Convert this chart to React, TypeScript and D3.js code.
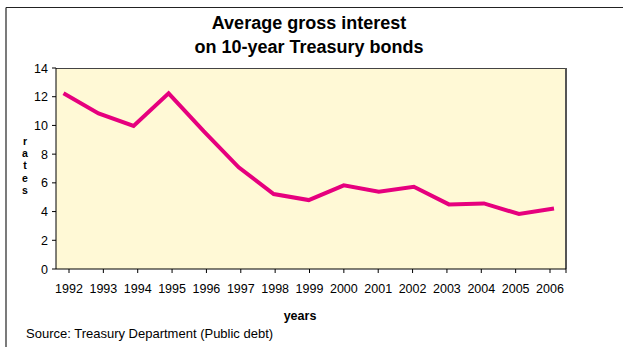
import React from "react";
import * as d3 from "d3";

const years = ["1992","1993","1994","1995","1996","1997","1998","1999","2000","2001","2002","2003","2004","2005","2006"];
const rates = [12.24, 10.84, 9.97, 12.24, 9.6, 7.08, 5.22, 4.8, 5.83, 5.38, 5.73, 4.5, 4.57, 3.83, 4.22];
const yTicks = [0, 2, 4, 6, 8, 10, 12, 14];
const titleLines = ["Average gross interest", "on 10-year Treasury bonds"];
const yTitle = ["r", "a", "t", "e", "s"];

const W = 623, H = 347;
const plot = { left: 56, right: 566, top: 68, bottom: 269 };
const FONT = "'Liberation Sans', Arial, Helvetica, sans-serif";

export default function App() {
  const y = d3.scaleLinear().domain([0, 14]).range([plot.bottom, plot.top]);
  const xLine = d3.scalePoint<string>().domain(years).range([63.5, 554]);
  const xTick = d3.scalePoint<string>().domain(years).range([69, 550]);
  const line = d3.line<number>()
    .x((_, i) => xLine(years[i]) as number)
    .y((d) => y(d));

  return (
    <svg width={W} height={H} style={{ position: "absolute", left: 0, top: 0, display: "block" }} fontFamily={FONT}>
      <rect x={0} y={0} width={W} height={H} fill="#fff" />
      {/* outer frame (top and left edges) */}
      <line x1={6} y1={7.5} x2={W} y2={7.5} stroke="#222" strokeWidth={1.2} />
      <line x1={6} y1={7.5} x2={6} y2={H} stroke="#222" strokeWidth={1.2} />

      {titleLines.map((t, i) => (
        <text key={t} x={309} y={29 + i * 24} textAnchor="middle" fontSize={18} fontWeight="bold" fill="#000">{t}</text>
      ))}

      {/* plot area */}
      <rect x={plot.left} y={plot.top} width={plot.right - plot.left} height={plot.bottom - plot.top} fill="#FFF9D6" />
      <line x1={plot.left} y1={plot.top + 0.5} x2={plot.right} y2={plot.top + 0.5} stroke="#444" strokeWidth={1} />
      <line x1={plot.right} y1={plot.top} x2={plot.right} y2={plot.bottom} stroke="#555" strokeWidth={2} />

      {/* y axis */}
      <line x1={plot.left} y1={plot.top} x2={plot.left} y2={plot.bottom} stroke="#000" strokeWidth={1} />
      {yTicks.map((t) => (
        <g key={t}>
          <line x1={plot.left - 4} x2={plot.left} y1={y(t)} y2={y(t)} stroke="#000" />
          <text x={48} y={y(t) + 4.5} textAnchor="end" fontSize={12.5} fill="#000">{t}</text>
        </g>
      ))}
      {yTitle.map((c, i) => (
        <text key={i} x={25} y={145 + i * 12.2} textAnchor="middle" fontSize={10.5} fontWeight="bold" fill="#000">{c}</text>
      ))}

      {/* x axis */}
      <line x1={plot.left} y1={plot.bottom} x2={plot.right} y2={plot.bottom} stroke="#000" strokeWidth={1} />
      {years.map((yr) => (
        <g key={yr}>
          <line x1={xTick(yr)} x2={xTick(yr)} y1={plot.bottom} y2={plot.bottom + 4} stroke="#000" />
          <text x={xTick(yr)} y={293} textAnchor="middle" fontSize={12.5} fill="#000">{yr}</text>
        </g>
      ))}
      <line x1={plot.right} x2={plot.right} y1={plot.bottom} y2={plot.bottom + 4} stroke="#000" />
      <text x={300} y={320} textAnchor="middle" fontSize={12.5} fontWeight="bold" fill="#000">years</text>

      {/* data line */}
      <path d={line(rates) ?? ""} fill="none" stroke="#E6007E" strokeWidth={4} strokeLinejoin="miter" />

      <text x={26} y={338} fontSize={13} fill="#000">Source: Treasury Department (Public debt)</text>
    </svg>
  );
}
